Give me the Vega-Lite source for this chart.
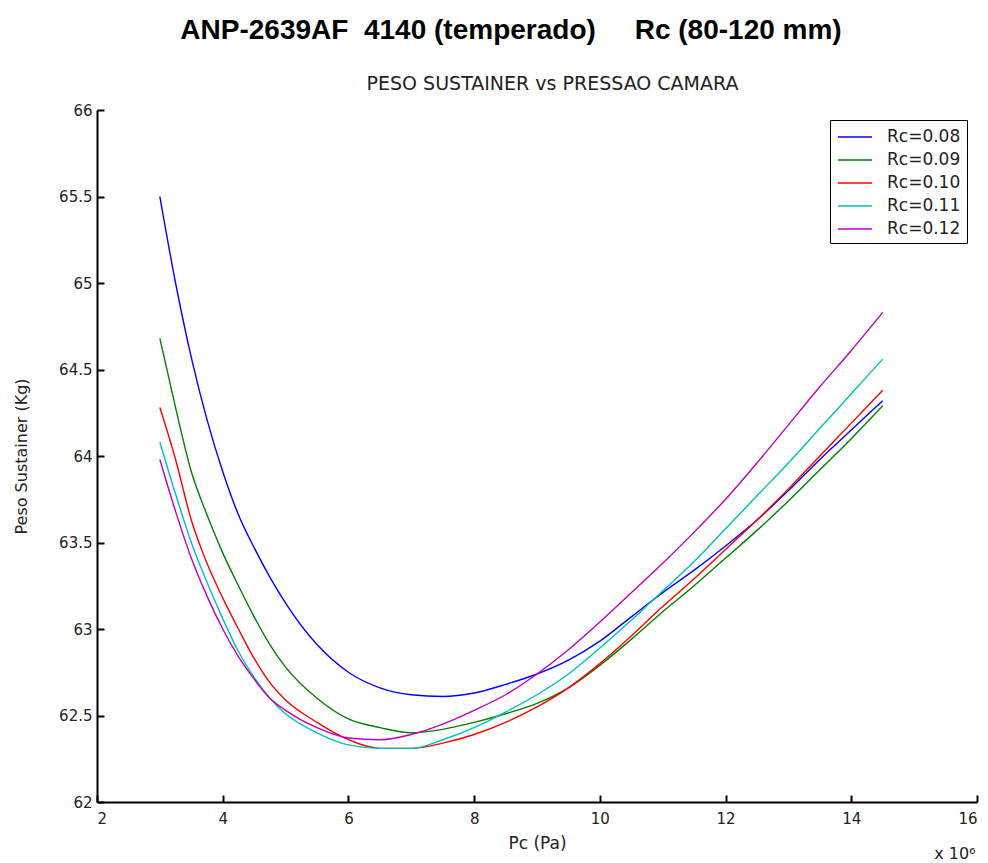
{
  "$schema": "https://vega.github.io/schema/vega-lite/v6.json",
  "width": 880,
  "height": 692,
  "autosize": {"type": "none"},
  "padding": {"left": 97, "top": 110, "right": 11, "bottom": 61},
  "background": "white",
  "title": {
    "text": "ANP-2639AF\u00a0\u00a04140 (temperado)\u00a0\u00a0\u00a0\u00a0\u00a0Rc (80-120 mm)",
    "anchor": "middle",
    "frame": "group",
    "dx": -26,
    "font": "Liberation Sans",
    "fontSize": 28,
    "fontWeight": "bold",
    "color": "#000",
    "offset": 29
  },
  "data": {"values": [
    {"pc":3,"peso":65.50,"s":"Rc=0.08"},{"pc":3.25,"peso":65.00,"s":"Rc=0.08"},{"pc":3.5,"peso":64.57,"s":"Rc=0.08"},{"pc":3.75,"peso":64.21,"s":"Rc=0.08"},{"pc":4,"peso":63.91,"s":"Rc=0.08"},{"pc":4.25,"peso":63.66,"s":"Rc=0.08"},{"pc":4.5,"peso":63.47,"s":"Rc=0.08"},{"pc":4.75,"peso":63.30,"s":"Rc=0.08"},{"pc":5,"peso":63.15,"s":"Rc=0.08"},{"pc":5.5,"peso":62.91,"s":"Rc=0.08"},{"pc":6,"peso":62.75,"s":"Rc=0.08"},{"pc":6.5,"peso":62.66,"s":"Rc=0.08"},{"pc":7,"peso":62.62,"s":"Rc=0.08"},{"pc":7.5,"peso":62.61,"s":"Rc=0.08"},{"pc":8,"peso":62.63,"s":"Rc=0.08"},{"pc":8.5,"peso":62.68,"s":"Rc=0.08"},{"pc":9,"peso":62.74,"s":"Rc=0.08"},{"pc":9.5,"peso":62.82,"s":"Rc=0.08"},{"pc":10,"peso":62.93,"s":"Rc=0.08"},{"pc":10.5,"peso":63.07,"s":"Rc=0.08"},{"pc":11,"peso":63.21,"s":"Rc=0.08"},{"pc":11.5,"peso":63.34,"s":"Rc=0.08"},{"pc":12,"peso":63.48,"s":"Rc=0.08"},{"pc":12.5,"peso":63.63,"s":"Rc=0.08"},{"pc":13,"peso":63.80,"s":"Rc=0.08"},{"pc":13.5,"peso":63.98,"s":"Rc=0.08"},{"pc":14,"peso":64.15,"s":"Rc=0.08"},{"pc":14.5,"peso":64.32,"s":"Rc=0.08"},
    {"pc":3,"peso":64.68,"s":"Rc=0.09"},{"pc":3.25,"peso":64.28,"s":"Rc=0.09"},{"pc":3.5,"peso":63.91,"s":"Rc=0.09"},{"pc":3.75,"peso":63.66,"s":"Rc=0.09"},{"pc":4,"peso":63.44,"s":"Rc=0.09"},{"pc":4.25,"peso":63.25,"s":"Rc=0.09"},{"pc":4.5,"peso":63.07,"s":"Rc=0.09"},{"pc":4.75,"peso":62.91,"s":"Rc=0.09"},{"pc":5,"peso":62.78,"s":"Rc=0.09"},{"pc":5.5,"peso":62.60,"s":"Rc=0.09"},{"pc":6,"peso":62.48,"s":"Rc=0.09"},{"pc":6.5,"peso":62.43,"s":"Rc=0.09"},{"pc":7,"peso":62.40,"s":"Rc=0.09"},{"pc":7.5,"peso":62.42,"s":"Rc=0.09"},{"pc":8,"peso":62.46,"s":"Rc=0.09"},{"pc":8.5,"peso":62.51,"s":"Rc=0.09"},{"pc":9,"peso":62.57,"s":"Rc=0.09"},{"pc":9.5,"peso":62.66,"s":"Rc=0.09"},{"pc":10,"peso":62.79,"s":"Rc=0.09"},{"pc":10.5,"peso":62.94,"s":"Rc=0.09"},{"pc":11,"peso":63.10,"s":"Rc=0.09"},{"pc":11.5,"peso":63.25,"s":"Rc=0.09"},{"pc":12,"peso":63.41,"s":"Rc=0.09"},{"pc":12.5,"peso":63.57,"s":"Rc=0.09"},{"pc":13,"peso":63.74,"s":"Rc=0.09"},{"pc":13.5,"peso":63.92,"s":"Rc=0.09"},{"pc":14,"peso":64.10,"s":"Rc=0.09"},{"pc":14.5,"peso":64.29,"s":"Rc=0.09"},
    {"pc":3,"peso":64.28,"s":"Rc=0.10"},{"pc":3.25,"peso":63.98,"s":"Rc=0.10"},{"pc":3.5,"peso":63.63,"s":"Rc=0.10"},{"pc":3.75,"peso":63.38,"s":"Rc=0.10"},{"pc":4,"peso":63.18,"s":"Rc=0.10"},{"pc":4.25,"peso":63.00,"s":"Rc=0.10"},{"pc":4.5,"peso":62.83,"s":"Rc=0.10"},{"pc":4.75,"peso":62.69,"s":"Rc=0.10"},{"pc":5,"peso":62.59,"s":"Rc=0.10"},{"pc":5.5,"peso":62.46,"s":"Rc=0.10"},{"pc":6,"peso":62.36,"s":"Rc=0.10"},{"pc":6.5,"peso":62.31,"s":"Rc=0.10"},{"pc":7,"peso":62.31,"s":"Rc=0.10"},{"pc":7.5,"peso":62.34,"s":"Rc=0.10"},{"pc":8,"peso":62.39,"s":"Rc=0.10"},{"pc":8.5,"peso":62.46,"s":"Rc=0.10"},{"pc":9,"peso":62.55,"s":"Rc=0.10"},{"pc":9.5,"peso":62.66,"s":"Rc=0.10"},{"pc":10,"peso":62.80,"s":"Rc=0.10"},{"pc":10.5,"peso":62.96,"s":"Rc=0.10"},{"pc":11,"peso":63.13,"s":"Rc=0.10"},{"pc":11.5,"peso":63.29,"s":"Rc=0.10"},{"pc":12,"peso":63.46,"s":"Rc=0.10"},{"pc":12.5,"peso":63.63,"s":"Rc=0.10"},{"pc":13,"peso":63.81,"s":"Rc=0.10"},{"pc":13.5,"peso":64.00,"s":"Rc=0.10"},{"pc":14,"peso":64.19,"s":"Rc=0.10"},{"pc":14.5,"peso":64.38,"s":"Rc=0.10"},
    {"pc":3,"peso":64.08,"s":"Rc=0.11"},{"pc":3.25,"peso":63.78,"s":"Rc=0.11"},{"pc":3.5,"peso":63.50,"s":"Rc=0.11"},{"pc":3.75,"peso":63.27,"s":"Rc=0.11"},{"pc":4,"peso":63.06,"s":"Rc=0.11"},{"pc":4.25,"peso":62.87,"s":"Rc=0.11"},{"pc":4.5,"peso":62.72,"s":"Rc=0.11"},{"pc":4.75,"peso":62.60,"s":"Rc=0.11"},{"pc":5,"peso":62.51,"s":"Rc=0.11"},{"pc":5.5,"peso":62.40,"s":"Rc=0.11"},{"pc":6,"peso":62.33,"s":"Rc=0.11"},{"pc":6.5,"peso":62.31,"s":"Rc=0.11"},{"pc":7,"peso":62.31,"s":"Rc=0.11"},{"pc":7.5,"peso":62.36,"s":"Rc=0.11"},{"pc":8,"peso":62.43,"s":"Rc=0.11"},{"pc":8.5,"peso":62.52,"s":"Rc=0.11"},{"pc":9,"peso":62.62,"s":"Rc=0.11"},{"pc":9.5,"peso":62.74,"s":"Rc=0.11"},{"pc":10,"peso":62.89,"s":"Rc=0.11"},{"pc":10.5,"peso":63.05,"s":"Rc=0.11"},{"pc":11,"peso":63.22,"s":"Rc=0.11"},{"pc":11.5,"peso":63.39,"s":"Rc=0.11"},{"pc":12,"peso":63.58,"s":"Rc=0.11"},{"pc":12.5,"peso":63.77,"s":"Rc=0.11"},{"pc":13,"peso":63.96,"s":"Rc=0.11"},{"pc":13.5,"peso":64.16,"s":"Rc=0.11"},{"pc":14,"peso":64.36,"s":"Rc=0.11"},{"pc":14.5,"peso":64.56,"s":"Rc=0.11"},
    {"pc":3,"peso":63.98,"s":"Rc=0.12"},{"pc":3.25,"peso":63.68,"s":"Rc=0.12"},{"pc":3.5,"peso":63.41,"s":"Rc=0.12"},{"pc":3.75,"peso":63.19,"s":"Rc=0.12"},{"pc":4,"peso":63.00,"s":"Rc=0.12"},{"pc":4.25,"peso":62.84,"s":"Rc=0.12"},{"pc":4.5,"peso":62.71,"s":"Rc=0.12"},{"pc":4.75,"peso":62.60,"s":"Rc=0.12"},{"pc":5,"peso":62.53,"s":"Rc=0.12"},{"pc":5.5,"peso":62.43,"s":"Rc=0.12"},{"pc":6,"peso":62.37,"s":"Rc=0.12"},{"pc":6.5,"peso":62.36,"s":"Rc=0.12"},{"pc":7,"peso":62.39,"s":"Rc=0.12"},{"pc":7.5,"peso":62.45,"s":"Rc=0.12"},{"pc":8,"peso":62.53,"s":"Rc=0.12"},{"pc":8.5,"peso":62.62,"s":"Rc=0.12"},{"pc":9,"peso":62.74,"s":"Rc=0.12"},{"pc":9.5,"peso":62.88,"s":"Rc=0.12"},{"pc":10,"peso":63.04,"s":"Rc=0.12"},{"pc":10.5,"peso":63.21,"s":"Rc=0.12"},{"pc":11,"peso":63.38,"s":"Rc=0.12"},{"pc":11.5,"peso":63.56,"s":"Rc=0.12"},{"pc":12,"peso":63.75,"s":"Rc=0.12"},{"pc":12.5,"peso":63.96,"s":"Rc=0.12"},{"pc":13,"peso":64.18,"s":"Rc=0.12"},{"pc":13.5,"peso":64.40,"s":"Rc=0.12"},{"pc":14,"peso":64.61,"s":"Rc=0.12"},{"pc":14.5,"peso":64.83,"s":"Rc=0.12"}
  ]},
  "layer": [
    {
      "mark": {"type": "line", "strokeWidth": 1.4, "interpolate": "monotone"},
      "encoding": {
        "x": {"field": "pc", "type": "quantitative",
          "scale": {"domain": [2, 16], "nice": false, "zero": false},
          "axis": {"title": "Pc (Pa)", "values": [2,4,6,8,10,12,14,16], "labelPadding": 16, "titlePadding": 9, "titleFontSize": 17, "orient": "bottom"}},
        "y": {"field": "peso", "type": "quantitative",
          "scale": {"domain": [62, 66], "nice": false, "zero": false},
          "axis": {"title": "Peso Sustainer (Kg)", "values": [62,62.5,63,63.5,64,64.5,65,65.5,66], "labelExpr": "datum.value + ''", "labelPadding": 12, "titlePadding": 29}},
        "color": {"field": "s", "type": "nominal",
          "scale": {"domain": ["Rc=0.08","Rc=0.09","Rc=0.10","Rc=0.11","Rc=0.12"], "range": ["#0000ff","#008000","#ff0000","#00bfbf","#bf00bf"]},
          "legend": {"title": null, "orient": "top-right", "offset": 10}}
      }
    },
    {
      "mark": {"type": "line", "opacity": 0},
      "encoding": {
        "x": {"field": "pc", "type": "quantitative",
          "axis": {"orient": "top", "title": "PESO SUSTAINER vs PRESSAO CAMARA", "labels": false, "ticks": false, "domain": false,
            "titleX": 455, "titleY": -21, "titleAlign": "center", "titleBaseline": "alphabetic", "titleAngle": 0, "titleFontSize": 19}},
        "y": {"field": "peso", "type": "quantitative",
          "axis": {"orient": "right", "title": "x 10\u2076", "labels": false, "ticks": false, "domain": false,
            "titleX": -2, "titleY": 748, "titleAlign": "right", "titleBaseline": "alphabetic", "titleAngle": 0, "titleFontSize": 16}},
        "detail": {"field": "s"}
      }
    }
  ],
  "resolve": {"axis": {"x": "independent", "y": "independent"}},
  "config": {
    "view": {"stroke": null},
    "axis": {"grid": false, "domainColor": "#000", "domainWidth": 2, "tickColor": "#000", "tickWidth": 2, "tickSize": -7,
      "labelFont": "DejaVu Sans", "labelFontSize": 15, "labelColor": "#222",
      "titleFont": "DejaVu Sans", "titleFontSize": 16, "titleFontWeight": "normal", "titleColor": "#222"},
    "legend": {"strokeColor": "#000", "fillColor": "white", "padding": 6, "labelFont": "DejaVu Sans", "labelFontSize": 17, "labelColor": "#222",
      "symbolType": "M-1.7,0H1.7", "symbolStrokeWidth": 1.6, "symbolSize": 400, "symbolOffset": 8, "rowPadding": 4, "labelOffset": 21, "cornerRadius": 0}
  }
}
